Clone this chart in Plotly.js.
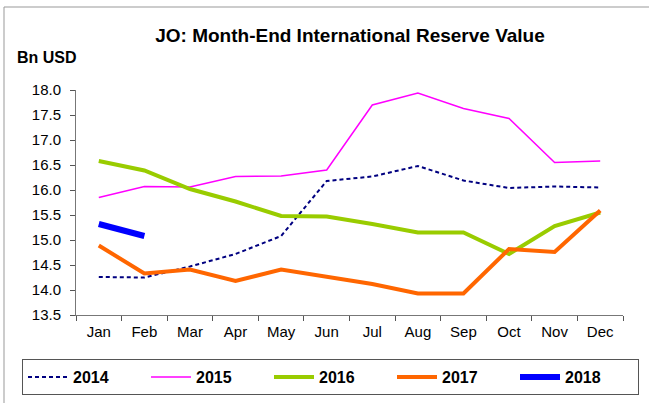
<!DOCTYPE html>
<html>
<head>
<meta charset="utf-8">
<script src="https://cdn.plot.ly/plotly-3.0.1.min.js"></script>
<style>html,body{margin:0;padding:0;background:#fff;}#chart{width:649px;height:403px;}</style>
</head>
<body>
<div id="chart"></div>
<script>
const months = ["Jan","Feb","Mar","Apr","May","Jun","Jul","Aug","Sep","Oct","Nov","Dec"];
const v2014 = [14.26,14.25,14.47,14.72,15.08,16.18,16.27,16.48,16.19,16.04,16.07,16.05];
const v2015 = [15.85,16.07,16.06,16.27,16.28,16.40,17.70,17.94,17.63,17.43,16.55,16.58];
const v2016 = [16.58,16.39,16.02,15.77,15.48,15.47,15.32,15.15,15.15,14.72,15.28,15.55];
const v2017 = [14.89,14.33,14.41,14.18,14.41,14.27,14.12,13.93,13.93,14.82,14.76,15.59];
const v2018 = [15.32,15.08];

const traces = [
  {name:"2014", y:v2014, line:{color:"#000080", width:2, dash:"4px,3px"}},
  {name:"2015", y:v2015, line:{color:"#FF00FF", width:1.5}},
  {name:"2016", y:v2016, line:{color:"#99CC00", width:4}},
  {name:"2017", y:v2017, line:{color:"#FF6600", width:4}},
  {name:"2018", y:v2018, line:{color:"#0000FF", width:6}}
].map(t => Object.assign({type:"scatter", mode:"lines", x:months.slice(0, t.y.length), hoverinfo:"skip"}, t));

const L=76, R=623, T=90, B=315;
const px = v => (v-L)/(R-L);
const py = v => (B-v)/(B-T);

const layout = {
  width:649, height:403,
  margin:{l:L, r:649-R, t:T, b:403-B, autoexpand:false},
  paper_bgcolor:"#fff", plot_bgcolor:"#fff",
  font:{family:"Liberation Sans, Arial, sans-serif", size:15, color:"#000"},
  showlegend:true,
  title:{text:"<b>JO: Month-End International Reserve Value</b>", font:{size:19, color:"#000"}, x:350/649, xanchor:"center", y:1-35/403, yanchor:"middle"},
  xaxis:{type:"category", categoryorder:"array", categoryarray:months, tickson:"boundaries", ticks:"outside", ticklen:5, tickcolor:"#555",
         showline:true, linecolor:"#777", linewidth:1, showgrid:false, zeroline:false, range:[-0.5,11.5], fixedrange:true,
         tickfont:{size:15}, ticklabelstandoff:3, automargin:false},
  yaxis:{range:[13.5,18.0], dtick:0.5, tickformat:".1f", ticks:"outside", ticklen:5, tickcolor:"#555",
         showline:true, linecolor:"#777", linewidth:1, showgrid:false, zeroline:false, fixedrange:true, tickfont:{size:15}, ticklabelstandoff:6, automargin:false},
  legend:{orientation:"h", x:px(22), xanchor:"left", y:py(395), yanchor:"bottom",
          bordercolor:"#555", borderwidth:1, bgcolor:"#fff", font:{size:16, color:"#000", weight:"bold"},
          entrywidth:68, traceorder:"normal", itemwidth:40, tracegroupgap:0},
  annotations:[
    {text:"<b>Bn USD</b>", xref:"paper", yref:"paper", x:px(15), y:py(58), xanchor:"left", yanchor:"middle", showarrow:false, font:{size:16}}
  ],
  shapes:[
    {type:"line", xref:"paper", yref:"paper", x0:px(4), x1:px(4), y0:py(7), y1:py(410), line:{color:"#999", width:1}},
    {type:"line", xref:"paper", yref:"paper", x0:px(4), x1:px(649), y0:py(7), y1:py(7), line:{color:"#999", width:1}}
  ]
};

Plotly.newPlot("chart", traces, layout, {staticPlot:true, displayModeBar:false});
</script>
</body>
</html>
